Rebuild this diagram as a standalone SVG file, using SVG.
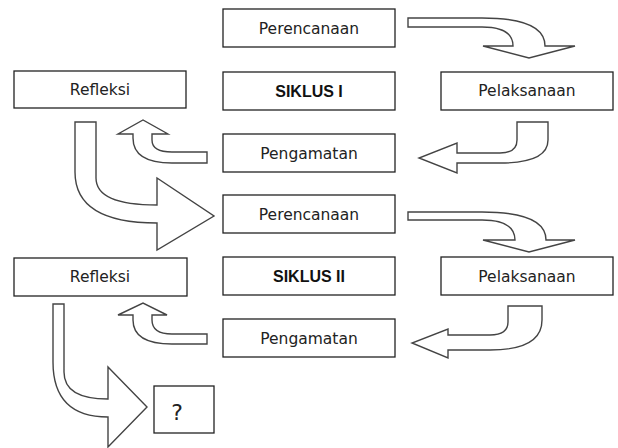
<svg xmlns="http://www.w3.org/2000/svg" width="618" height="448" viewBox="0 0 618 448">
<style>
.box{fill:#fff;stroke:#222;stroke-width:1.3}
.arr{fill:#fff;stroke:#444;stroke-width:1.4;stroke-linejoin:miter}
.t{font-family:"DejaVu Sans",sans-serif;font-size:15.5px;fill:#222;text-anchor:middle}
.b{font-family:"Liberation Sans",Arial,sans-serif;font-size:16px;font-weight:bold;fill:#111;text-anchor:middle}
.q{font-family:"DejaVu Sans",sans-serif;font-size:22px;fill:#222;text-anchor:middle}
</style>
<rect width="618" height="448" fill="#fff"/>
<g id="connectors">
<path class="arr" d="M408,18 L482,18 Q545,18 545,46 L575,46 L529,58 L483,46 L513,46 Q513,27 482,27 L408,27 Z"/>
<path class="arr" d="M517,122 L548,122 L548,140 Q548,163 500,163 L457,163 L457,173 L419,158 L457,143 L457,153 L500,153 Q517,153 517,140 Z"/>
<path class="arr" d="M207,152 L207,163 L172,163 Q133,163 133,138 L133,134 L118,134 L143,120 L168,134 L152,134 L152,140 Q152,152 172,152 Z"/>
<path class="arr" d="M75,122 L96,122 L96,178 Q96,205 157,205 L157,178 L214,216 L157,250 L157,223 Q75,223 75,172 Z"/>
<path class="arr" d="M408,212 L482,212 Q546,212 546,240 L575,240 L529,252 L483,240 L515,240 Q515,220 482,220 L408,220 Z"/>
<path class="arr" d="M508,306 L542,306 L542,320 Q542,350 490,350 L448,350 L448,358 L412,343 L448,329 L448,335 L490,335 Q508,335 508,322 Z"/>
<path class="arr" d="M207,334 L207,344 L172,344 Q133,344 133,320 L133,315 L118,315 L143,303 L167,315 L152,315 L152,320 Q152,334 172,334 Z"/>
<path class="arr" d="M53,304 L64,304 L64,372 Q64,399 108,399 L108,367 L147,407 L108,447 L108,417 Q53,417 53,362 Z"/>
</g>
<g id="perencanaan1"><rect class="box" x="223" y="9" width="172" height="38"/><text class="t" x="309" y="34">Perencanaan</text></g>
<g id="refleksi1"><rect class="box" x="14" y="71" width="172" height="37"/><text class="t" x="100" y="95">Refleksi</text></g>
<g id="siklus1"><rect class="box" x="223" y="72" width="172" height="38"/><text class="b" x="309" y="97">SIKLUS I</text></g>
<g id="pelaksanaan1"><rect class="box" x="441" y="72" width="172" height="38"/><text class="t" x="527" y="96">Pelaksanaan</text></g>
<g id="pengamatan1"><rect class="box" x="223" y="134" width="172" height="38"/><text class="t" x="309" y="159">Pengamatan</text></g>
<g id="perencanaan2"><rect class="box" x="223" y="195" width="172" height="38"/><text class="t" x="309" y="220">Perencanaan</text></g>
<g id="refleksi2"><rect class="box" x="14" y="258" width="173" height="38"/><text class="t" x="100" y="282">Refleksi</text></g>
<g id="siklus2"><rect class="box" x="223" y="257" width="172" height="38"/><text class="b" x="309" y="282">SIKLUS II</text></g>
<g id="pelaksanaan2"><rect class="box" x="441" y="257" width="172" height="38"/><text class="t" x="527" y="282">Pelaksanaan</text></g>
<g id="pengamatan2"><rect class="box" x="223" y="319" width="172" height="38"/><text class="t" x="309" y="344">Pengamatan</text></g>
<g id="unknown"><rect class="box" x="154" y="386" width="60" height="47"/><text class="q" x="177" y="420">?</text></g>
</svg>
